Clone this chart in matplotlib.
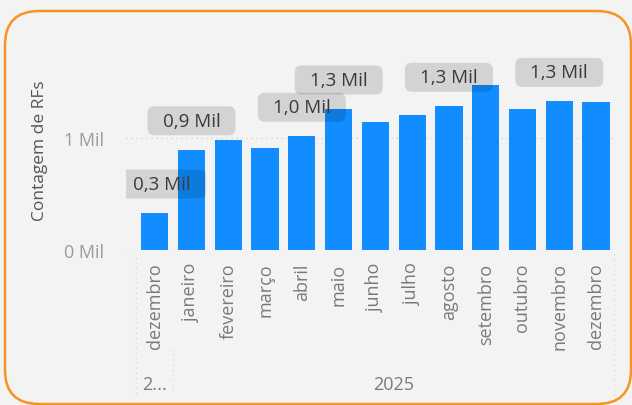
import matplotlib
matplotlib.use("Agg")
import matplotlib.pyplot as plt
import matplotlib.transforms as mtransforms
from matplotlib.patches import FancyBboxPatch
from matplotlib.lines import Line2D

# ---- data ---------------------------------------------------------------
months = ["dezembro", "janeiro", "fevereiro", "março", "abril", "maio",
          "junho", "julho", "agosto", "setembro", "outubro", "novembro",
          "dezembro"]
years = ["2...", "2025"]
year_of_month = [0] + [1] * 12
counts = [330, 895, 980, 913, 1015, 1259, 1146, 1202, 1283, 1473, 1256,
          1327, 1321]
labeled_idx = [0, 1, 4, 5, 8, 11]
y_ticks = [0, 1000]

# ---- style --------------------------------------------------------------
W, H, DPI = 632, 406, 100
BG = "#f3f3f3"
BAR = "#118DFF"
ORANGE = "#F7931E"
FONT = ["Open Sans", "DejaVu Sans"]
plt.rcParams["font.family"] = FONT

fig = plt.figure(figsize=(W / DPI, H / DPI), dpi=DPI, facecolor=BG)

# rounded orange card border (pixel coordinates)
card = FancyBboxPatch((5, 1), 626, 393,
                      boxstyle="round,pad=0,rounding_size=34",
                      transform=mtransforms.IdentityTransform(),
                      facecolor="none", edgecolor=ORANGE, linewidth=1.8)
fig.patches.append(card)

# plot area
left_px, right_px, top_px, base_px = 126, 615, 50, 251
ax = fig.add_axes([left_px / W, 1 - base_px / H,
                   (right_px - left_px) / W, (base_px - top_px) / H])
ax.set_facecolor("none")
for s in ax.spines.values():
    s.set_visible(False)

x = list(range(len(months)))
ax.bar(x, counts, width=0.74, color=BAR, zorder=2)

px_per_unit = 36.78
ax.set_xlim((left_px - 154.7) / px_per_unit, (right_px - 154.7) / px_per_unit)
ax.set_ylim(0, (base_px - top_px) / 112 * 1000)

# y axis
ax.set_yticks(y_ticks)
ax.set_yticklabels([f"{v // 1000} Mil" for v in y_ticks], color="#9a9a9a",
                   fontsize=13)
ax.tick_params(axis="y", length=0, pad=16)
for v in y_ticks:
    ax.axhline(v, color="#cfcfcf", linewidth=0.9, linestyle=(0, (1, 3)),
               zorder=1)

# x axis month labels
ax.set_xticks(x)
ax.set_xticklabels(months, rotation=90, color="#7a7a7a", fontsize=13,
                   va="top", ha="center")
ax.tick_params(axis="x", length=0, pad=9)

fig.text(40 / W, 1 - 151 / H, "Contagem de RFs", rotation=90,
         ha="center", va="center", color="#555555", fontsize=12.5)

# year row
blend = mtransforms.blended_transform_factory(ax.transData, fig.transFigure)
for yi, yname in enumerate(years):
    members = [i for i, g in enumerate(year_of_month) if g == yi]
    cx = sum(members) / len(members)
    ax.text(cx, 1 - 385 / H, yname, transform=blend, ha="center",
            va="center", color="#7a7a7a", fontsize=13, clip_on=False)

# dotted separators between year groups
for xs, y0, y1 in [(-0.5, 258, 395), (0.5, 350, 395), (12.5, 255, 400)]:
    ln = Line2D([xs, xs], [1 - y0 / H, 1 - y1 / H], transform=blend,
                color="#d6d6d6", linewidth=0.9, linestyle=(0, (1, 3)))
    ln.set_clip_on(False)
    ax.add_line(ln)

# data labels in translucent rounded boxes
fig.canvas.draw()
box_w, box_h, lift = 88, 29, 29
for i in labeled_idx:
    v = counts[i]
    text = f"{v / 1000:.1f}".replace(".", ",") + " Mil"
    bx, by = ax.transData.transform((i, v))
    cx = max(bx, left_px + 36)
    cy = by + lift
    box = FancyBboxPatch((cx - box_w / 2, cy - box_h / 2), box_w, box_h,
                         boxstyle="round,pad=0,rounding_size=7",
                         transform=mtransforms.IdentityTransform(),
                         facecolor="black", alpha=0.13, edgecolor="none",
                         zorder=3)
    ax.add_patch(box)
    box.set_clip_box(ax.bbox)
    ax.text(cx, cy, text, transform=mtransforms.IdentityTransform(),
            ha="center", va="center", color="#3a3a3a", fontsize=13.5,
            zorder=4)

fig.savefig("out.png", dpi=DPI, facecolor=BG)
